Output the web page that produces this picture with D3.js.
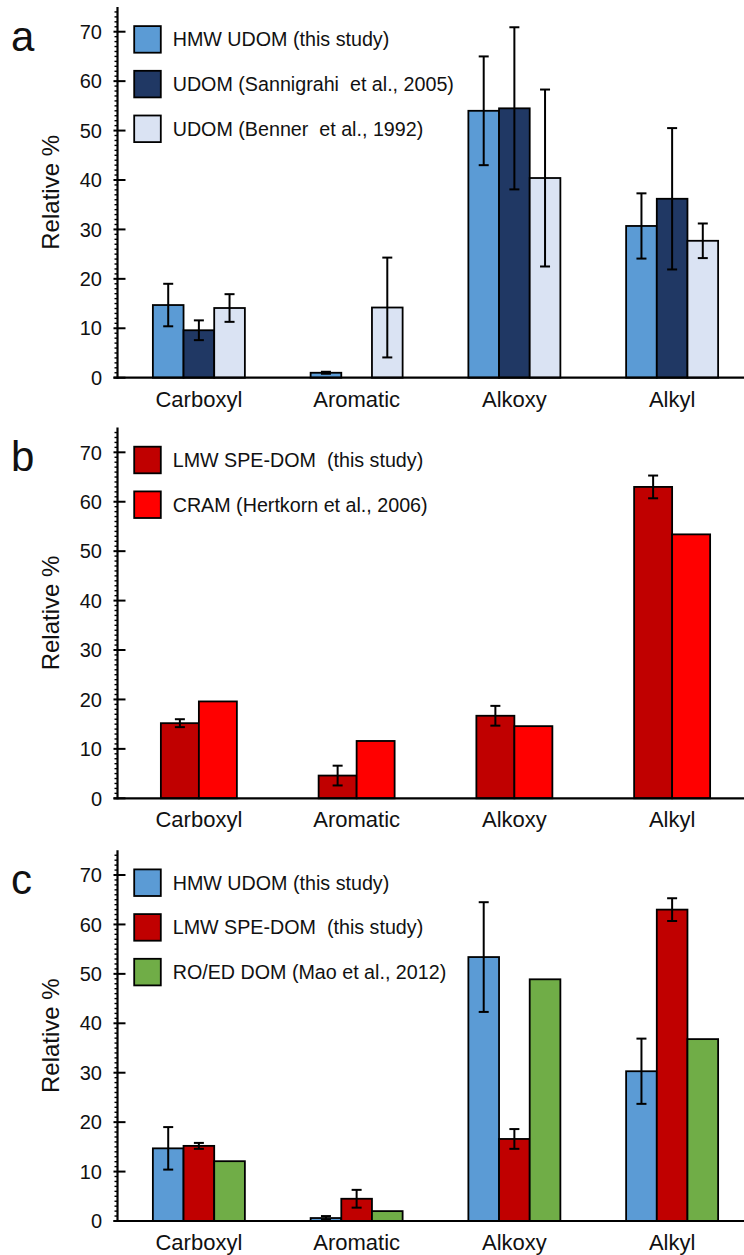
<!DOCTYPE html>
<html>
<head>
<meta charset="utf-8">
<script src="https://cdn.jsdelivr.net/npm/d3@7"></script>
<style>
  html, body { margin: 0; padding: 0; background: #fff; }
  svg text { font-family: "Liberation Sans", Arial, Helvetica, sans-serif; fill: #111; white-space: pre; }
</style>
</head>
<body>
<svg id="chart" width="744" height="1255"></svg>
<script>
// Functional-group categories (13C NMR regions)
const categories = ["Carboxyl", "Aromatic", "Alkoxy", "Alkyl"];
const yTicks = [0, 10, 20, 30, 40, 50, 60, 70];

// Panel a: UDOM comparison
const hmwUdomA = [14.7, 1.0, 54.0, 30.7];
const hmwUdomAErr = [4.3, 0.2, 11.0, 6.6];
const udomSannigrahi = [9.6, 0, 54.5, 36.2];
const udomSannigrahiErr = [2.0, 0, 16.4, 14.3];
const udomBenner = [14.1, 14.2, 40.4, 27.7];
const udomBennerErr = [2.8, 10.1, 17.9, 3.5];

// Panel b: SPE-DOM vs CRAM
const lmwSpeDomB = [15.2, 4.6, 16.7, 63.0];
const lmwSpeDomBErr = [0.8, 2.0, 2.0, 2.3];
const cramHertkorn = [19.6, 11.6, 14.6, 53.4];

// Panel c: this study vs RO/ED DOM
const hmwUdomC = [14.7, 0.6, 53.4, 30.3];
const hmwUdomCErr = [4.3, 0.4, 11.1, 6.6];
const lmwSpeDomC = [15.2, 4.5, 16.6, 63.0];
const lmwSpeDomCErr = [0.6, 1.8, 2.0, 2.3];
const roedMao = [12.1, 2.0, 48.9, 36.8];

const C = {
  hmw: "#5b9bd5", navy: "#203864", pale: "#dae3f3",
  darkRed: "#c00000", red: "#ff0000", green: "#70ad47"
};

const panels = [
  {
    letter: "a", base: 377.7, groupWidth: 92,
    series: [
      { name: "HMW UDOM (this study)", color: C.hmw, values: hmwUdomA, err: hmwUdomAErr },
      { name: "UDOM (Sannigrahi  et al., 2005)", color: C.navy, values: udomSannigrahi, err: udomSannigrahiErr },
      { name: "UDOM (Benner  et al., 1992)", color: C.pale, values: udomBenner, err: udomBennerErr }
    ]
  },
  {
    letter: "b", base: 798.3, groupWidth: 76,
    series: [
      { name: "LMW SPE-DOM  (this study)", color: C.darkRed, values: lmwSpeDomB, err: lmwSpeDomBErr },
      { name: "CRAM (Hertkorn et al., 2006)", color: C.red, values: cramHertkorn, err: null }
    ]
  },
  {
    letter: "c", base: 1221, groupWidth: 92,
    series: [
      { name: "HMW UDOM (this study)", color: C.hmw, values: hmwUdomC, err: hmwUdomCErr },
      { name: "LMW SPE-DOM  (this study)", color: C.darkRed, values: lmwSpeDomC, err: lmwSpeDomCErr },
      { name: "RO/ED DOM (Mao et al., 2012)", color: C.green, values: roedMao, err: null }
    ]
  }
];

const svg = d3.select("#chart");
const axisX = 117.5;
const plotH = 370.7;   // pixel height of 0..75
const x0 = d3.scaleBand().domain(categories).range([120, 751]).paddingInner(0);

panels.forEach(p => {
  const g = svg.append("g");
  const y = d3.scaleLinear().domain([0, 75]).range([p.base, p.base - plotH]);
  const names = p.series.map(s => s.name);
  const x1 = d3.scaleBand().domain(d3.range(p.series.length))
    .range([-p.groupWidth / 2, p.groupWidth / 2]).paddingInner(0);

  // bars
  p.series.forEach((s, si) => {
    const rows = categories.map((c, i) => ({ c, v: s.values[i], e: s.err ? s.err[i] : 0 }));
    g.append("g").selectAll("rect")
      .data(rows.filter(d => d.v > 0))
      .join("rect")
      .attr("x", d => x0(d.c) + x0.bandwidth() / 2 + x1(si))
      .attr("width", x1.bandwidth())
      .attr("y", d => y(d.v))
      .attr("height", d => y(0) - y(d.v))
      .attr("fill", s.color)
      .attr("stroke", "#000")
      .attr("stroke-width", 1.8);
  });

  // error bars
  p.series.forEach((s, si) => {
    if (!s.err) return;
    const rows = categories.map((c, i) => ({ c, v: s.values[i], e: s.err[i] }))
      .filter(d => d.v > 0 && d.e > 0);
    const eg = g.append("g").attr("stroke", "#000").attr("stroke-width", 2);
    const cx = d => x0(d.c) + x0.bandwidth() / 2 + x1(si) + x1.bandwidth() / 2;
    eg.selectAll("line.v").data(rows).join("line").attr("class", "v")
      .attr("x1", cx).attr("x2", cx)
      .attr("y1", d => y(d.v + d.e)).attr("y2", d => y(Math.max(0, d.v - d.e)));
    eg.selectAll("line.t").data(rows).join("line").attr("class", "t")
      .attr("x1", d => cx(d) - 5).attr("x2", d => cx(d) + 5)
      .attr("y1", d => y(d.v + d.e)).attr("y2", d => y(d.v + d.e));
    eg.selectAll("line.b").data(rows).join("line").attr("class", "b")
      .attr("x1", d => cx(d) - 5).attr("x2", d => cx(d) + 5)
      .attr("y1", d => y(Math.max(0, d.v - d.e))).attr("y2", d => y(Math.max(0, d.v - d.e)));
  });

  // y axis: minor ticks every unit, major every 10
  const ax = g.append("g").attr("stroke", "#000");
  ax.selectAll("line.minor").data(d3.range(1, 75).filter(v => v % 10 !== 0))
    .join("line").attr("class", "minor")
    .attr("x1", axisX - 3).attr("x2", axisX)
    .attr("y1", d => y(d)).attr("y2", d => y(d))
    .attr("stroke-width", 1.4);
  ax.selectAll("line.major").data(yTicks)
    .join("line").attr("class", "major")
    .attr("x1", axisX - 4).attr("x2", axisX + 8)
    .attr("y1", d => y(d)).attr("y2", d => y(d))
    .attr("stroke-width", 2);
  ax.append("line")
    .attr("x1", axisX).attr("x2", axisX)
    .attr("y1", y(0) + 1).attr("y2", y(75))
    .attr("stroke-width", 2.2);
  // x axis baseline
  ax.append("line")
    .attr("x1", axisX - 4).attr("x2", 744)
    .attr("y1", y(0)).attr("y2", y(0))
    .attr("stroke-width", 2.2);

  g.append("g").selectAll("text").data(yTicks).join("text")
    .attr("x", 102).attr("y", d => y(d)).attr("dy", "0.36em")
    .attr("text-anchor", "end").attr("font-size", 20)
    .text(d => d);

  // y axis title
  g.append("text")
    .attr("transform", `translate(59,${y(37.5)}) rotate(-90)`)
    .attr("text-anchor", "middle").attr("font-size", 24)
    .text("Relative %");

  // category labels
  g.append("g").selectAll("text").data(categories).join("text")
    .attr("x", d => x0(d) + x0.bandwidth() / 2)
    .attr("y", y(0) + 29)
    .attr("text-anchor", "middle").attr("font-size", 22)
    .text(d => d);

  // legend
  const lg = g.append("g");
  p.series.forEach((s, i) => {
    const top = p.base - 352.5 + i * 44.7;
    lg.append("rect")
      .attr("x", 134.2).attr("y", top + 0.9)
      .attr("width", 26.6).attr("height", 26.6)
      .attr("fill", s.color).attr("stroke", "#000").attr("stroke-width", 1.8);
    lg.append("text")
      .attr("x", 172.7).attr("y", top + 14.2).attr("dy", "0.36em")
      .attr("font-size", 19.7)
      .text(s.name);
  });

  // panel letter
  g.append("text")
    .attr("x", 11).attr("y", p.base - 327)
    .attr("font-size", 42)
    .text(p.letter);
});
</script>
</body>
</html>
